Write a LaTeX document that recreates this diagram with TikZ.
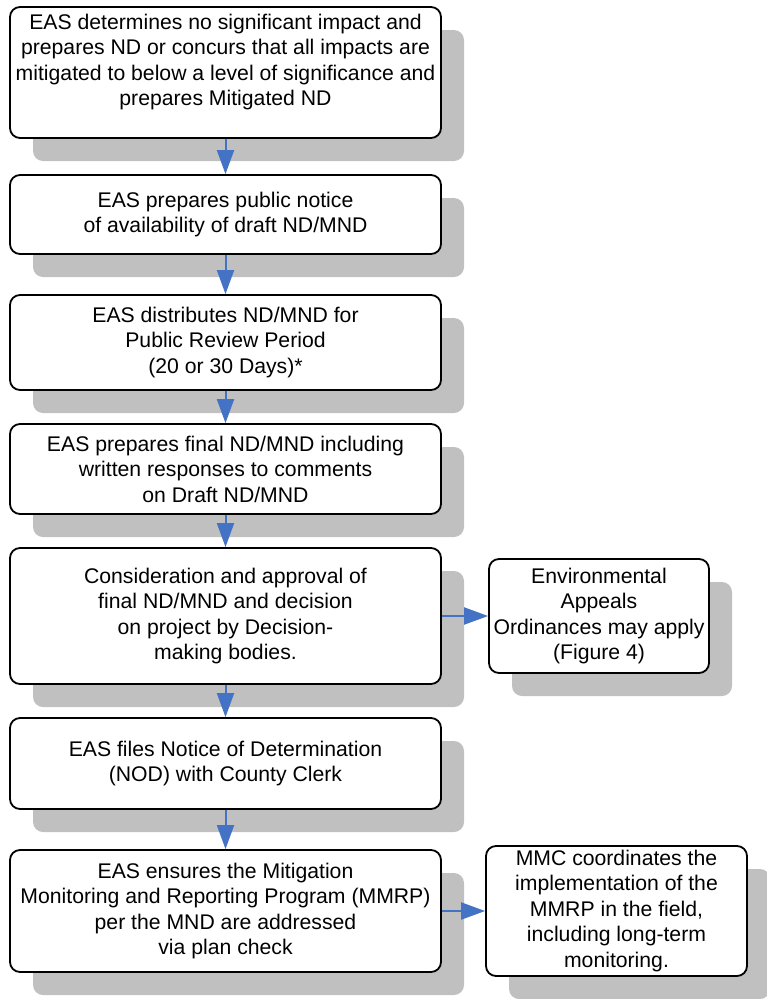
\documentclass[tikz,border=0pt]{standalone}
\usepackage{fontspec}
\setmainfont{Liberation Sans}
\usetikzlibrary{arrows.meta,shadows}
\definecolor{shadowgray}{HTML}{C0C0C0}
\definecolor{arrowblue}{HTML}{4472C4}
\begin{document}
\begin{tikzpicture}[x=1pt,y=-1pt,
  box/.style={draw=black, line width=1.8pt, fill=white, rounded corners=10pt,
    align=center, inner sep=0pt, font=\fontsize{21.2}{25.5}\selectfont,
    drop shadow={shadow xshift=23pt, shadow yshift=-23pt, fill=shadowgray, opacity=1}},
  arr/.style={color=arrowblue, line width=2pt, -{Triangle[length=24pt,width=17pt]}}]
\useasboundingbox (0,0) rectangle (767,999);
\node[box, minimum width=431pt, minimum height=131pt] (b1) at (225.5,72.5)
  {EAS determines no significant impact and\\prepares ND or concurs that all impacts are\\mitigated to below a level of significance and\\prepares Mitigated ND\\\mbox{}};
\node[box, minimum width=431pt, minimum height=79pt] (b2) at (225.5,214.5)
  {EAS prepares public notice\\of availability of draft ND/MND};
\node[box, minimum width=431pt, minimum height=95pt] (b3) at (225.5,342.5)
  {EAS distributes ND/MND for\\Public Review Period\\(20 or 30 Days)*};
\node[box, minimum width=431pt, minimum height=90pt] (b4) at (225.5,469)
  {EAS prepares final ND/MND including\\written responses to comments\\on Draft ND/MND};
\node[box, minimum width=431pt, minimum height=136pt] (b5) at (225.5,616)
  {Consideration and approval of\\final ND/MND and decision\\on project by Decision-\\making bodies.};
\node[box, minimum width=431pt, minimum height=91pt] (b6) at (225.5,763.5)
  {EAS files Notice of Determination\\(NOD) with County Clerk};
\node[box, minimum width=431pt, minimum height=122pt] (b7) at (225.5,911)
  {EAS ensures the Mitigation\\Monitoring and Reporting Program (MMRP)\\per the MND are addressed\\via plan check};
\node[box, minimum width=220pt, minimum height=114pt] (ra) at (599,616)
  {Environmental\\Appeals\\Ordinances may apply\\(Figure 4)};
\node[box, minimum width=261pt, minimum height=130pt] (rb) at (616.5,911)
  {MMC coordinates the\\implementation of the\\MMRP in the field,\\including long-term\\monitoring.};
\draw[arr] (b1) -- (b2);
\draw[arr] (b2) -- (b3);
\draw[arr] (b3) -- (b4);
\draw[arr] (b4) -- (b5);
\draw[arr] (b5) -- (b6);
\draw[arr] (b6) -- (b7);
\draw[arr] (b5.east) -- (ra.west);
\draw[arr] (b7.east) -- (rb.west);
\end{tikzpicture}
\end{document}
